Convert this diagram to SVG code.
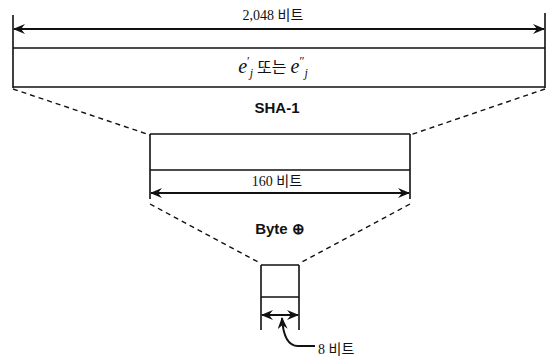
<svg xmlns="http://www.w3.org/2000/svg" width="551" height="358" viewBox="0 0 551 358">
<defs>
<marker id="ah" viewBox="0 0 12 10" refX="11" refY="5" markerWidth="13" markerHeight="10" markerUnits="userSpaceOnUse" orient="auto-start-reverse">
<path d="M0,0 L12,5 L0,10 L4,5 Z" fill="#111"/>
</marker>
</defs>
<style>
.ln{stroke:#111;stroke-width:1.6;fill:none}
.ds{stroke:#111;stroke-width:1.4;fill:none;stroke-dasharray:5,4}
.ar{stroke:#111;stroke-width:2;fill:none}
.lb{font-family:"Liberation Serif","Noto Sans CJK KR",serif;font-size:14px;fill:#111}
.bd{font-family:"Liberation Sans",Arial,sans-serif;font-weight:bold;font-size:15px;fill:#111}
</style>
<g id="top-block">
<path class="ln" d="M13,15 V88 M545,13 V88 M13,48 H545 M13,87 H545"/>
<text class="lb" x="273" y="20" text-anchor="middle">2,048 비트</text>
<text x="273" y="73" text-anchor="middle" style="font-family:'Liberation Serif','Noto Sans CJK KR',serif;font-size:20px;fill:#111"><tspan font-style="italic">e</tspan><tspan font-size="12" dy="-8">′</tspan><tspan font-style="italic" font-size="12" dy="12">j</tspan><tspan font-size="16" dy="-4"> 또는 </tspan><tspan font-style="italic">e</tspan><tspan font-size="12" dy="-8">″</tspan><tspan font-style="italic" font-size="12" dy="12">j</tspan></text>
</g>
<g id="sha1-label">
<text class="bd" x="277" y="113" text-anchor="middle">SHA-1</text>
</g>
<g id="mid-block">
<path class="ln" d="M150,134 V199 M410,134 V199 M150,134 H410 M150,170 H410"/>
<text class="lb" x="277" y="186" text-anchor="middle">160 비트</text>
</g>
<g id="byte-label">
<text class="bd" x="280" y="234" text-anchor="middle">Byte ⊕</text>
</g>
<g id="small-block">
<path class="ln" d="M261,265 V330 M299,265 V330 M261,265 H299 M261,297 H299"/>
<text class="lb" x="318" y="354">8 비트</text>
</g>
<g id="connectors">
<line class="ar" x1="14" y1="29" x2="544" y2="29" marker-start="url(#ah)" marker-end="url(#ah)"/>
<line class="ar" x1="151" y1="193" x2="409" y2="193" marker-start="url(#ah)" marker-end="url(#ah)"/>
<line class="ar" x1="262" y1="315" x2="298" y2="315" marker-start="url(#ah)" marker-end="url(#ah)"/>
<path class="ar" d="M315,346 H298 C288,346 283,335 282,318" marker-end="url(#ah)"/>
<path class="ds" d="M13,89 L150,135 M545,89 L410,135"/>
<path class="ds" d="M150,204 L260,263 M410,204 L300,263"/>
</g>
</svg>
